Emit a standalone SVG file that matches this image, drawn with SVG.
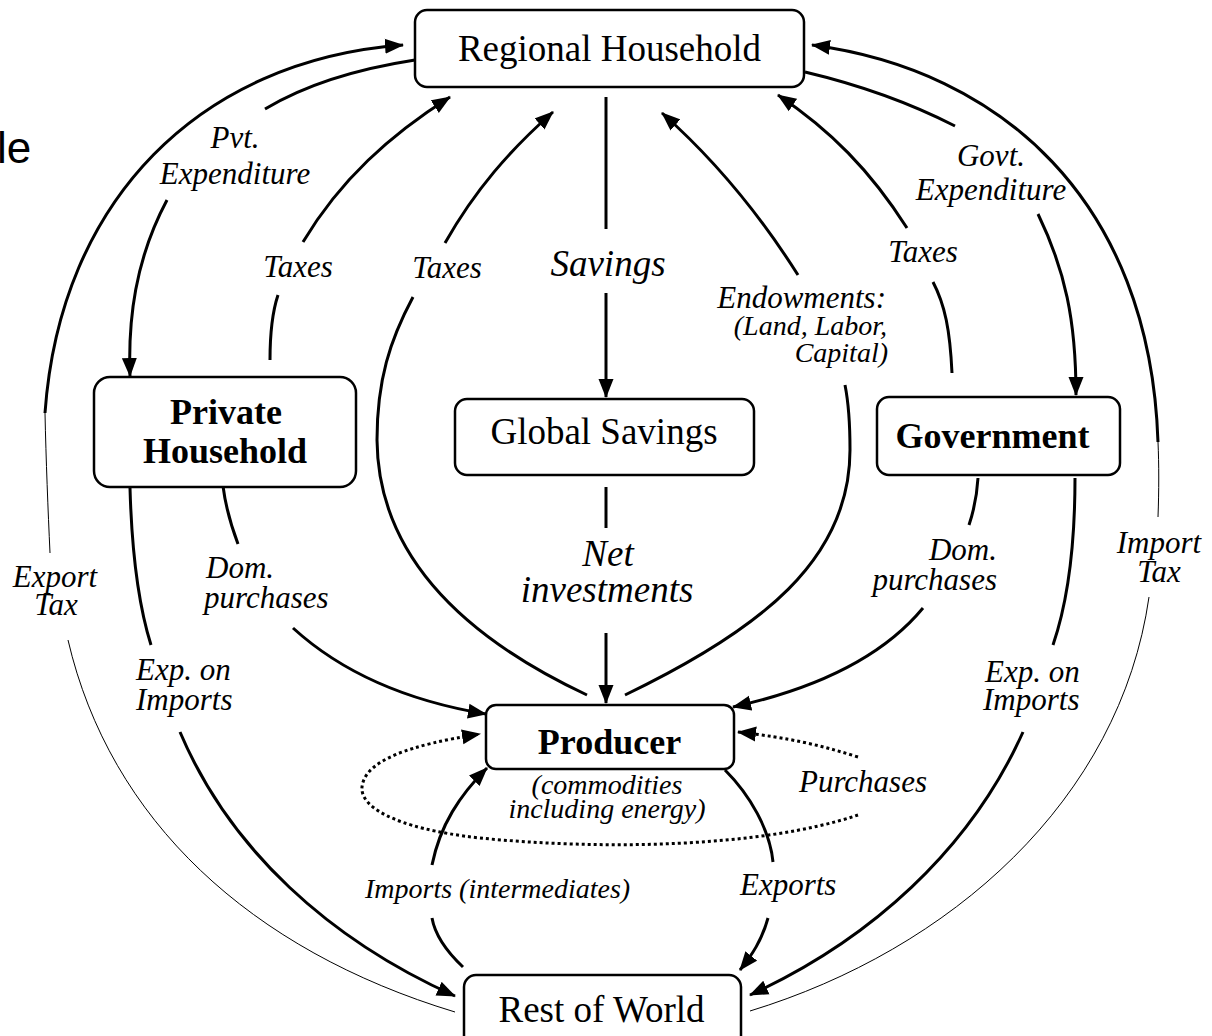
<svg xmlns="http://www.w3.org/2000/svg" width="1212" height="1036" viewBox="0 0 1212 1036">
<style>
.box{fill:#fff;stroke:#000;stroke-width:2.5}
.c{fill:none;stroke:#000;stroke-width:3}
.thin{fill:none;stroke:#000;stroke-width:1}
.dot{stroke-dasharray:3 3}
.n{font-family:"Liberation Serif","Times New Roman",serif;font-size:37px;text-anchor:middle;fill:#000}
.nb{font-family:"Liberation Serif","Times New Roman",serif;font-size:36px;font-weight:bold;text-anchor:middle;fill:#000}
.l{font-family:"Liberation Serif","Times New Roman",serif;font-size:31px;font-style:italic;fill:#000}
.s{font-family:"Liberation Serif","Times New Roman",serif;font-size:28px;font-style:italic;fill:#000}
.b{font-family:"Liberation Serif","Times New Roman",serif;font-size:37px;font-style:italic;fill:#000;text-anchor:middle}
.m{text-anchor:middle}
.e{text-anchor:end}
</style>
<defs>
<marker id="ah" markerUnits="userSpaceOnUse" markerWidth="20" markerHeight="16" refX="18" refY="8" orient="auto" viewBox="0 0 20 16">
<path d="M0,0.5 L19,8 L0,15.5 z" fill="#000" stroke="none"/>
</marker>
</defs>
<rect width="1212" height="1036" fill="#fff"/>
<text x="-3" y="163" font-family="'Liberation Sans',Arial,sans-serif" font-size="44">le</text>

<g id="connectors">
<!-- outer left: Export Tax -->
<path class="thin" d="M68,640 C110,820 250,950 455,1012"/>
<path class="thin" d="M50,553 C48,510 46,460 45,413"/>
<path class="c" d="M45,413 C60,200 200,60 403,45" marker-end="url(#ah)"/>
<!-- Pvt. Expenditure -->
<path class="c" d="M415,60 C350,70 300,88 265,109"/>
<path class="c" d="M167,200 C135,260 128,320 130,376" marker-end="url(#ah)"/>
<!-- Taxes (private) -->
<path class="c" d="M270,360 C270,330 273,310 278,295"/>
<path class="c" d="M303,242 C340,180 390,135 450,97" marker-end="url(#ah)"/>
<!-- Taxes (producer) -->
<path class="c" d="M587,695 C470,640 378,560 377,440 C377,380 390,340 413,297"/>
<path class="c" d="M445,243 C475,190 510,150 553,112" marker-end="url(#ah)"/>
<!-- Savings -->
<path class="c" d="M606,97 L606,229"/>
<path class="c" d="M606,293 L606,397" marker-end="url(#ah)"/>
<!-- Net investments -->
<path class="c" d="M606,487 L606,528"/>
<path class="c" d="M606,633 L606,703" marker-end="url(#ah)"/>
<!-- Endowments -->
<path class="c" d="M625,695 C760,630 850,560 850,450 C850,420 848,400 845,385"/>
<path class="c" d="M798,275 C760,215 715,160 662,113" marker-end="url(#ah)"/>
<!-- Taxes (government) -->
<path class="c" d="M952,373 C950,330 945,305 933,282"/>
<path class="c" d="M907,228 C870,170 830,130 778,95" marker-end="url(#ah)"/>
<!-- Govt. Expenditure -->
<path class="c" d="M805,72 C860,85 910,103 955,126"/>
<path class="c" d="M1038,214 C1065,270 1076,320 1076,395" marker-end="url(#ah)"/>
<!-- outer right: Import Tax -->
<path class="thin" d="M1149,597 C1120,800 950,950 750,1011"/>
<path class="thin" d="M1158,517 C1159,490 1159,465 1158,442"/>
<path class="c" d="M1158,442 C1150,200 1000,70 812,45" marker-end="url(#ah)"/>
<!-- Private Dom. purchases -->
<path class="c" d="M223,486 C226,510 232,528 238,544"/>
<path class="c" d="M293,628 C350,680 420,703 486,714" marker-end="url(#ah)"/>
<!-- Private Exp. on Imports -->
<path class="c" d="M130,488 C132,560 140,610 151,645"/>
<path class="c" d="M180,732 C230,850 330,940 455,996" marker-end="url(#ah)"/>
<!-- Government Dom. purchases -->
<path class="c" d="M978,478 C977,495 974,510 969,525"/>
<path class="c" d="M923,608 C880,660 810,690 733,707" marker-end="url(#ah)"/>
<!-- Government Exp. on Imports -->
<path class="c" d="M1075,478 C1075,560 1065,610 1053,645"/>
<path class="c" d="M1023,732 C970,850 870,940 750,995" marker-end="url(#ah)"/>
<!-- Imports (intermediates) -->
<path class="c" d="M463,967 C445,950 435,935 432,918"/>
<path class="c" d="M432,865 C440,825 460,795 487,768" marker-end="url(#ah)"/>
<!-- Exports -->
<path class="c" d="M725,770 C750,795 770,830 773,862"/>
<path class="c" d="M768,918 C762,940 752,955 740,970" marker-end="url(#ah)"/>
<!-- Purchases loop (dotted) -->
<path class="c dot" d="M858,757 C820,745 790,738 738,732" marker-end="url(#ah)"/>
<path class="c dot" d="M858,815 C760,848 600,850 480,838 C390,828 360,805 362,787 C365,760 410,745 480,734" marker-end="url(#ah)"/>
</g>

<g id="labels">
<text class="l m" x="235" y="148">Pvt.</text>
<text class="l m" x="235" y="184">Expenditure</text>
<text class="l m" x="298" y="277">Taxes</text>
<text class="l m" x="447" y="278">Taxes</text>
<text class="b" x="608" y="276">Savings</text>
<text class="l e" x="886" y="308">Endowments:</text>
<text class="s e" x="887" y="335">(Land, Labor,</text>
<text class="s e" x="888" y="362">Capital)</text>
<text class="l m" x="923" y="262">Taxes</text>
<text class="l m" x="991" y="166">Govt.</text>
<text class="l m" x="991" y="200">Expenditure</text>
<text class="l m" x="55" y="587">Export</text>
<text class="l m" x="56" y="615">Tax</text>
<text class="l" x="206" y="578">Dom.</text>
<text class="l" x="204" y="608">purchases</text>
<text class="l" x="136" y="680">Exp. on</text>
<text class="l" x="136" y="710">Imports</text>
<text class="b" x="608" y="566">Net</text>
<text class="b" x="607" y="602">investments</text>
<text class="l e" x="997" y="560">Dom.</text>
<text class="l e" x="997" y="590">purchases</text>
<text class="l" x="985" y="682">Exp. on</text>
<text class="l" x="983" y="710">Imports</text>
<text class="l m" x="1159" y="553">Import</text>
<text class="l m" x="1159" y="582">Tax</text>
<text class="l" x="799" y="792">Purchases</text>
<text class="s" x="365" y="898">Imports (intermediates)</text>
<text class="l" x="740" y="895">Exports</text>
</g>

<g id="regional-household">
<rect class="box" x="415" y="10" width="389" height="77" rx="12"/>
<text class="n" x="609.5" y="61">Regional Household</text>
</g>
<g id="private-household">
<rect class="box" x="94" y="377" width="262" height="110" rx="16"/>
<text class="nb" x="226" y="424">Private</text>
<text class="nb" x="225" y="463">Household</text>
</g>
<g id="global-savings">
<rect class="box" x="455" y="399" width="299" height="76" rx="12"/>
<text class="n" x="604" y="444">Global Savings</text>
</g>
<g id="government">
<rect class="box" x="877" y="397" width="243" height="78" rx="12"/>
<text class="nb" x="992.5" y="448">Government</text>
</g>
<g id="producer">
<rect class="box" x="486" y="705" width="248" height="64" rx="10"/>
<text class="nb" x="609.5" y="754">Producer</text>
<text class="s m" x="607" y="794">(commodities</text>
<text class="s m" x="607" y="818">including energy)</text>
</g>
<g id="rest-of-world">
<rect class="box" x="464" y="975" width="277" height="80" rx="12"/>
<text class="n" x="601.5" y="1022">Rest of World</text>
</g>
</svg>
